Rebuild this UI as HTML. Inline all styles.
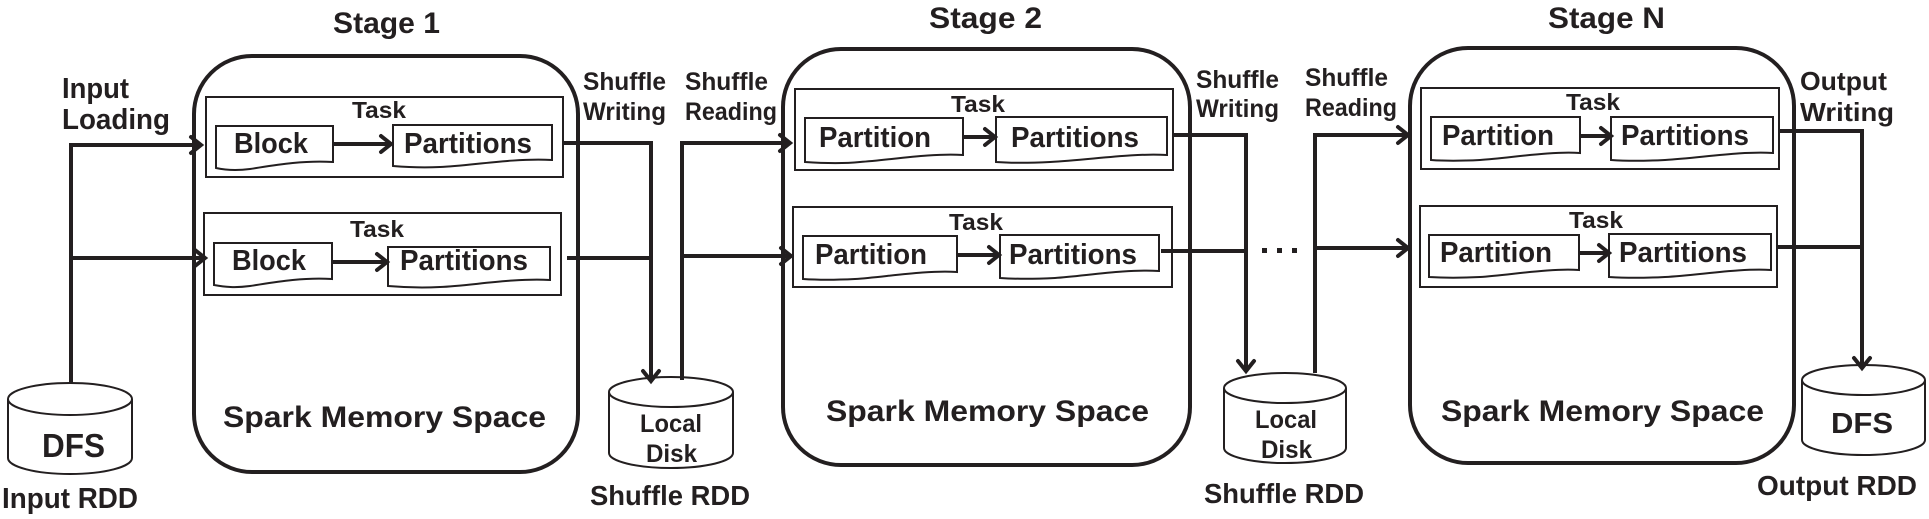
<!DOCTYPE html>
<html><head><meta charset="utf-8"><style>
html,body{margin:0;padding:0;background:#fff;}
svg{display:block;}
text{font-family:"Liberation Sans",Arial,sans-serif;font-weight:bold;fill:#231f20;}
</style></head><body>
<svg width="1929" height="519" viewBox="0 0 1929 519" xmlns="http://www.w3.org/2000/svg">
<g fill="none" stroke="#231f20">
<rect x="194" y="56" width="384" height="416" rx="58" stroke-width="4"/>
<rect x="783" y="49" width="407" height="416" rx="58" stroke-width="4"/>
<rect x="1410" y="48" width="384" height="415" rx="58" stroke-width="4"/>
<g stroke-width="2">
<rect x="206" y="97" width="357" height="80"/>
<rect x="204" y="213" width="357" height="82"/>
<rect x="795" y="89" width="378" height="81"/>
<rect x="793" y="207" width="379" height="80"/>
<rect x="1421" y="88" width="358" height="81"/>
<rect x="1420" y="206" width="357" height="81"/>
<path d="M216 126 H333 V162 C300 160 270 166 250 169 C235 171 225 170 216 168 Z"/>
<path d="M393 125 H552 V160 C510 158 470 166 440 167 C420 168 405 167 393 166 Z"/>
<path d="M214 243 H332 V279 C300 277 270 283 250 286 C235 288 225 287 214 285 Z"/>
<path d="M388 247 H550 V280 C510 278 470 286 440 287 C420 288 400 287 388 286 Z"/>
<path d="M805 118 H963 V155 C930 153 890 160 860 162 C840 164 820 163 805 162 Z"/>
<path d="M996 117 H1167 V155 C1130 153 1090 160 1050 162 C1030 163 1010 163 996 162 Z"/>
<path d="M803 236 H957 V272 C925 270 885 277 855 279 C835 280 818 280 803 279 Z"/>
<path d="M1000 235 H1159 V271 C1125 269 1085 276 1055 278 C1035 279 1015 279 1000 278 Z"/>
<path d="M1431 117 H1580 V153 C1550 151 1510 158 1480 160 C1460 161 1445 161 1431 160 Z"/>
<path d="M1611 117 H1773 V153 C1740 151 1700 158 1665 160 C1645 161 1625 161 1611 160 Z"/>
<path d="M1429 235 H1579 V270 C1550 268 1510 275 1480 277 C1460 278 1445 278 1429 277 Z"/>
<path d="M1609 234 H1771 V270 C1740 268 1700 275 1665 277 C1645 278 1625 278 1609 277 Z"/>
<path d="M8 399 A62 16 0 0 1 132 399 V458 A62 16 0 0 1 8 458 Z"/>
<path d="M8 399 A62 16 0 0 0 132 399"/>
<path d="M609 392 A62 15 0 0 1 733 392 V453 A62 15 0 0 1 609 453 Z"/>
<path d="M609 392 A62 15 0 0 0 733 392"/>
<path d="M1224 388 A61 15 0 0 1 1346 388 V448 A61 15 0 0 1 1224 448 Z"/>
<path d="M1224 388 A61 15 0 0 0 1346 388"/>
<path d="M1802 380 A61.5 15 0 0 1 1925 380 V440 A61.5 15 0 0 1 1802 440 Z"/>
<path d="M1802 380 A61.5 15 0 0 0 1925 380"/>
</g>
<g stroke-width="4" stroke-linejoin="miter">
<polyline points="71,383 71,145 201,145"/>
<line x1="71" y1="258" x2="205" y2="258"/>
<polyline points="563,143 651,143 651,381"/>
<line x1="567" y1="258" x2="651" y2="258"/>
<polyline points="682,380 682,143 789,143"/>
<line x1="682" y1="256" x2="790" y2="256"/>
<polyline points="1172,135 1246,135 1246,371"/>
<line x1="1161" y1="251" x2="1246" y2="251"/>
<polyline points="1315,373 1315,135 1407,135"/>
<line x1="1315" y1="248" x2="1407" y2="248"/>
<polyline points="1779,131 1862,131 1862,368"/>
<line x1="1777" y1="247" x2="1862" y2="247"/>
<line x1="333" y1="144" x2="390" y2="144"/>
<line x1="332" y1="262" x2="386" y2="262"/>
<line x1="963" y1="137" x2="993" y2="137"/>
<line x1="957" y1="255" x2="997" y2="255"/>
<line x1="1580" y1="136" x2="1609" y2="136"/>
<line x1="1579" y1="253" x2="1607" y2="253"/>
</g>
<g stroke-width="4" stroke-linecap="round">
<polyline points="191,137 201,145 191,153"/>
<polyline points="195,250 205,258 195,266"/>
<polyline points="381,136 391,144 381,152"/>
<polyline points="377,254 387,262 377,270"/>
<polyline points="643,371 651,381 659,371"/>
<polyline points="780,135 790,143 780,151"/>
<polyline points="781,248 791,256 781,264"/>
<polyline points="985,129 995,137 985,145"/>
<polyline points="989,247 999,255 989,263"/>
<polyline points="1238,361 1246,371 1254,361"/>
<polyline points="1398,127 1408,135 1398,143"/>
<polyline points="1398,240 1408,248 1398,256"/>
<polyline points="1601,128 1611,136 1601,144"/>
<polyline points="1599,245 1609,253 1599,261"/>
<polyline points="1854,358 1862,368 1870,358"/>
</g>
</g>
<g>
<text x="333" y="33" font-size="30" textLength="107" lengthAdjust="spacingAndGlyphs">Stage 1</text>
<text x="929" y="28" font-size="30" textLength="113" lengthAdjust="spacingAndGlyphs">Stage 2</text>
<text x="1548" y="28" font-size="30" textLength="117" lengthAdjust="spacingAndGlyphs">Stage N</text>
<text x="62" y="98" font-size="29" textLength="67" lengthAdjust="spacingAndGlyphs">Input</text>
<text x="62" y="129" font-size="29" textLength="108" lengthAdjust="spacingAndGlyphs">Loading</text>
<text x="583" y="90" font-size="25" textLength="83" lengthAdjust="spacingAndGlyphs">Shuffle</text>
<text x="583" y="120" font-size="25" textLength="83" lengthAdjust="spacingAndGlyphs">Writing</text>
<text x="685" y="90" font-size="25" textLength="83" lengthAdjust="spacingAndGlyphs">Shuffle</text>
<text x="685" y="120" font-size="25" textLength="92" lengthAdjust="spacingAndGlyphs">Reading</text>
<text x="1196" y="88" font-size="25" textLength="83" lengthAdjust="spacingAndGlyphs">Shuffle</text>
<text x="1196" y="117" font-size="25" textLength="83" lengthAdjust="spacingAndGlyphs">Writing</text>
<text x="1305" y="86" font-size="25" textLength="83" lengthAdjust="spacingAndGlyphs">Shuffle</text>
<text x="1305" y="116" font-size="25" textLength="92" lengthAdjust="spacingAndGlyphs">Reading</text>
<text x="1800" y="90" font-size="26" textLength="87" lengthAdjust="spacingAndGlyphs">Output</text>
<text x="1800" y="121" font-size="26" textLength="94" lengthAdjust="spacingAndGlyphs">Writing</text>
<g font-size="23">
<text x="352" y="118" textLength="54" lengthAdjust="spacingAndGlyphs">Task</text>
<text x="350" y="237" textLength="54" lengthAdjust="spacingAndGlyphs">Task</text>
<text x="951" y="112" textLength="54" lengthAdjust="spacingAndGlyphs">Task</text>
<text x="949" y="230" textLength="54" lengthAdjust="spacingAndGlyphs">Task</text>
<text x="1566" y="110" textLength="54" lengthAdjust="spacingAndGlyphs">Task</text>
<text x="1569" y="228" textLength="54" lengthAdjust="spacingAndGlyphs">Task</text>
</g>
<g font-size="29">
<text x="234" y="153" textLength="74" lengthAdjust="spacingAndGlyphs">Block</text>
<text x="404" y="153" textLength="128" lengthAdjust="spacingAndGlyphs">Partitions</text>
<text x="232" y="270" textLength="74" lengthAdjust="spacingAndGlyphs">Block</text>
<text x="400" y="270" textLength="128" lengthAdjust="spacingAndGlyphs">Partitions</text>
<text x="819" y="147" textLength="112" lengthAdjust="spacingAndGlyphs">Partition</text>
<text x="1011" y="147" textLength="128" lengthAdjust="spacingAndGlyphs">Partitions</text>
<text x="815" y="264" textLength="112" lengthAdjust="spacingAndGlyphs">Partition</text>
<text x="1009" y="264" textLength="128" lengthAdjust="spacingAndGlyphs">Partitions</text>
<text x="1442" y="145" textLength="112" lengthAdjust="spacingAndGlyphs">Partition</text>
<text x="1621" y="145" textLength="128" lengthAdjust="spacingAndGlyphs">Partitions</text>
<text x="1440" y="262" textLength="112" lengthAdjust="spacingAndGlyphs">Partition</text>
<text x="1619" y="262" textLength="128" lengthAdjust="spacingAndGlyphs">Partitions</text>
</g>
<g font-size="30">
<text x="223" y="427" textLength="323" lengthAdjust="spacingAndGlyphs">Spark Memory Space</text>
<text x="826" y="421" textLength="323" lengthAdjust="spacingAndGlyphs">Spark Memory Space</text>
<text x="1441" y="421" textLength="323" lengthAdjust="spacingAndGlyphs">Spark Memory Space</text>
</g>
<text x="42" y="457" font-size="33" textLength="63" lengthAdjust="spacingAndGlyphs">DFS</text>
<text x="1831" y="433" font-size="29" textLength="62" lengthAdjust="spacingAndGlyphs">DFS</text>
<g font-size="25">
<text x="640" y="432" textLength="62" lengthAdjust="spacingAndGlyphs">Local</text>
<text x="646" y="462" textLength="51" lengthAdjust="spacingAndGlyphs">Disk</text>
<text x="1255" y="428" textLength="62" lengthAdjust="spacingAndGlyphs">Local</text>
<text x="1261" y="458" textLength="51" lengthAdjust="spacingAndGlyphs">Disk</text>
</g>
<text x="2" y="508" font-size="29" textLength="136" lengthAdjust="spacingAndGlyphs">Input RDD</text>
<text x="590" y="505" font-size="28" textLength="160" lengthAdjust="spacingAndGlyphs">Shuffle RDD</text>
<text x="1204" y="503" font-size="28" textLength="160" lengthAdjust="spacingAndGlyphs">Shuffle RDD</text>
<text x="1757" y="495" font-size="28" textLength="160" lengthAdjust="spacingAndGlyphs">Output RDD</text>
<g fill="#231f20">
<rect x="1262" y="248" width="5" height="5"/>
<rect x="1277" y="248" width="5" height="5"/>
<rect x="1292" y="248" width="5" height="5"/>
</g>
</g>
</svg>
</body></html>
